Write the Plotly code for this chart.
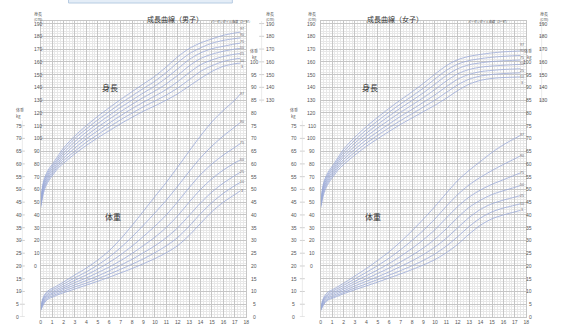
import plotly.graph_objects as go

# ages (years) at which the percentile values are given
ages = [0, 0.25, 0.5, 0.75, 1, 1.5, 2, 3, 4, 5, 6, 7, 8, 9, 10, 11, 12, 13, 14, 15, 16, 17, 17.5]
percentiles = ["3", "10", "25", "50", "75", "90", "97"]

# boys' height (cm), one row per percentile
boy_height = [
    [45.5, 57.5, 63.5, 67.5, 70.5, 76.5, 80.5, 88.0, 94.5, 100.5, 106.0, 111.5, 116.5, 121.3, 125.5, 130.0, 135.0, 141.0, 147.0, 152.5, 156.5, 158.5, 159.0],
    [46.9, 59.0, 65.0, 69.0, 72.0, 78.0, 82.5, 90.0, 97.0, 103.0, 109.0, 114.6, 119.8, 124.8, 129.3, 134.0, 139.5, 146.0, 152.5, 157.0, 160.3, 162.2, 162.8],
    [47.9, 60.5, 66.5, 70.5, 73.5, 79.5, 84.5, 92.5, 99.7, 106.0, 112.0, 117.8, 123.3, 128.4, 133.2, 138.3, 144.5, 151.5, 157.7, 161.5, 164.2, 166.0, 166.5],
    [49.0, 62.0, 68.0, 72.0, 75.0, 81.0, 86.5, 95.0, 102.3, 108.8, 115.0, 121.0, 126.7, 132.1, 137.1, 142.8, 149.5, 156.8, 162.6, 166.0, 168.3, 170.0, 170.6],
    [50.0, 63.5, 69.5, 73.5, 76.5, 82.7, 88.5, 97.5, 105.0, 111.7, 118.0, 124.3, 130.0, 135.7, 141.0, 147.4, 154.5, 161.8, 167.0, 170.3, 172.2, 174.0, 174.7],
    [51.0, 65.0, 71.0, 75.0, 78.0, 84.2, 90.5, 100.0, 107.5, 114.5, 121.0, 127.4, 133.3, 139.2, 144.8, 151.7, 159.5, 166.3, 171.0, 174.6, 176.8, 178.2, 178.8],
    [52.0, 66.5, 72.5, 76.5, 79.5, 86.0, 92.5, 102.0, 110.0, 117.3, 124.0, 130.5, 136.6, 142.7, 148.7, 156.0, 164.0, 170.4, 174.8, 178.0, 180.8, 182.6, 183.3],
]

# boys' weight (kg)
boy_weight = [
    [2.5, 5.0, 6.5, 7.3, 7.7, 8.7, 9.5, 11.0, 12.5, 14.0, 15.6, 17.3, 19.0, 20.9, 22.9, 25.2, 28.0, 32.0, 36.7, 41.3, 45.0, 48.0, 49.5],
    [2.75, 5.5, 7.0, 7.8, 8.2, 9.2, 10.1, 11.8, 13.3, 15.0, 16.8, 18.7, 20.7, 22.8, 25.2, 27.9, 31.2, 35.6, 40.5, 44.9, 48.5, 51.5, 52.8],
    [3.0, 6.0, 7.5, 8.3, 8.8, 9.8, 10.8, 12.6, 14.3, 16.1, 18.1, 20.3, 22.6, 25.2, 27.9, 31.1, 35.0, 39.8, 44.7, 49.0, 52.5, 55.4, 56.8],
    [3.2, 6.5, 8.0, 8.8, 9.3, 10.4, 11.4, 13.5, 15.3, 17.4, 19.6, 22.1, 24.9, 28.0, 31.3, 35.1, 39.7, 45.0, 50.0, 54.2, 57.6, 60.4, 61.6],
    [3.45, 7.0, 8.5, 9.4, 9.9, 11.0, 12.1, 14.4, 16.5, 18.8, 21.4, 24.4, 27.8, 31.6, 35.6, 40.0, 45.2, 50.7, 55.8, 60.0, 63.5, 66.5, 68.0],
    [3.7, 7.5, 9.1, 10.0, 10.6, 11.7, 12.9, 15.4, 17.7, 20.4, 23.5, 27.2, 31.4, 36.0, 40.8, 45.8, 51.3, 57.0, 62.4, 67.0, 71.0, 74.5, 76.3],
    [3.95, 8.0, 9.7, 10.6, 11.2, 12.4, 13.7, 16.5, 19.2, 22.3, 26.0, 30.6, 35.9, 41.5, 47.2, 52.8, 58.8, 65.0, 71.0, 76.5, 81.0, 85.0, 87.5],
]

# girls' height (cm)
girl_height = [
    [45.5, 56.0, 62.0, 66.0, 69.0, 75.0, 79.5, 87.0, 93.8, 99.8, 105.5, 111.0, 116.0, 121.0, 126.0, 131.5, 137.5, 142.5, 145.5, 147.0, 147.7, 148.0, 148.2],
    [46.6, 57.5, 63.5, 67.5, 70.5, 76.7, 81.5, 89.3, 96.3, 102.5, 108.4, 114.0, 119.3, 124.6, 130.0, 136.0, 142.0, 146.4, 148.9, 150.1, 150.8, 151.2, 151.4],
    [47.7, 59.0, 65.0, 69.0, 72.0, 78.3, 83.5, 91.6, 98.9, 105.3, 111.4, 117.3, 122.7, 128.3, 134.1, 140.5, 146.4, 150.2, 152.3, 153.3, 154.0, 154.4, 154.6],
    [48.5, 60.5, 66.5, 70.5, 73.5, 80.0, 85.5, 94.0, 101.5, 108.2, 114.5, 120.5, 126.2, 132.0, 138.3, 145.0, 150.6, 154.0, 155.8, 156.7, 157.3, 157.8, 158.0],
    [49.5, 62.0, 68.0, 72.0, 75.0, 81.6, 87.5, 96.4, 104.1, 111.0, 117.6, 123.8, 129.7, 135.8, 142.5, 149.3, 154.6, 157.7, 159.2, 160.2, 160.8, 161.2, 161.4],
    [50.4, 63.5, 69.5, 73.5, 76.5, 83.2, 89.5, 98.7, 106.7, 113.8, 120.6, 127.0, 133.1, 139.5, 146.5, 153.3, 158.2, 161.0, 162.5, 163.6, 164.3, 164.8, 165.0],
    [51.3, 65.0, 71.0, 75.0, 78.0, 84.8, 91.5, 101.0, 109.3, 116.6, 123.6, 130.2, 136.5, 143.2, 150.3, 157.0, 161.7, 164.3, 165.8, 167.0, 167.8, 168.3, 168.5],
]

# girls' weight (kg)
girl_weight = [
    [2.45, 4.8, 6.2, 6.9, 7.3, 8.2, 9.1, 10.7, 12.2, 13.7, 15.3, 16.9, 18.6, 20.4, 22.5, 25.2, 28.5, 32.5, 36.0, 38.5, 40.0, 41.2, 41.8],
    [2.7, 5.2, 6.6, 7.3, 7.7, 8.7, 9.6, 11.4, 13.0, 14.7, 16.4, 18.2, 20.1, 22.2, 24.7, 27.8, 31.5, 35.5, 38.8, 41.2, 42.7, 43.8, 44.4],
    [2.95, 5.6, 7.1, 7.8, 8.2, 9.3, 10.2, 12.2, 14.0, 15.8, 17.7, 19.8, 22.0, 24.5, 27.4, 30.9, 35.0, 39.0, 42.2, 44.4, 45.8, 47.0, 47.6],
    [3.15, 6.1, 7.6, 8.3, 8.8, 9.9, 10.9, 13.1, 15.0, 17.1, 19.2, 21.6, 24.2, 27.1, 30.5, 34.6, 39.0, 43.0, 45.8, 48.0, 49.5, 50.8, 51.6],
    [3.4, 6.6, 8.1, 8.9, 9.4, 10.5, 11.6, 14.0, 16.2, 18.5, 21.0, 23.8, 26.9, 30.3, 34.2, 38.8, 43.3, 47.0, 49.8, 52.0, 53.8, 55.6, 56.5],
    [3.6, 7.0, 8.6, 9.5, 10.0, 11.2, 12.4, 15.0, 17.5, 20.2, 23.1, 26.4, 30.0, 34.0, 38.4, 43.4, 48.0, 51.8, 54.8, 57.4, 59.8, 62.0, 63.2],
    [3.85, 7.5, 9.2, 10.1, 10.6, 11.9, 13.2, 16.1, 19.0, 22.2, 25.6, 29.5, 33.8, 38.4, 43.3, 48.5, 53.5, 57.5, 61.0, 64.5, 67.5, 70.0, 71.2],
]

titles = ["成長曲線（男子）", "成長曲線（女子）"]
age_ticks = list(range(0, 19))

W, H = 567, 325
FONT = "Noto Sans CJK JP"
NUM_FONT = "Liberation Sans"
CURVE = "#9aaad8"
TXT = "#555555"
GRID_MAJOR = "#c6c6c6"
GRID_MINOR = "#e8e8e8"

# height axis (cm) and weight axis (kg) share the same vertical space:
# weight w sits where height 2w - 40 sits
H_RANGE = [-40, 192]
W_RANGE = [0, 116]

# pixel placement of the two panels
panel_left = [40, 322]
panel_width = 207
plot_top, plot_bottom = 21, 317


def px(x):
    return x / W


def py(y):
    return 1 - y / H


def spread(values, gap):
    """Label positions in ascending order, at least `gap` apart, centred on the values."""
    pos = list(values)
    for k in range(1, len(pos)):
        pos[k] = max(pos[k], pos[k - 1] + gap)
    shift = (sum(values) - sum(pos)) / len(pos)
    return [v + shift for v in pos]


fig = go.Figure()

panels = [
    dict(height=boy_height, weight=boy_weight, xa="x", ya="y", wa="y3"),
    dict(height=girl_height, weight=girl_weight, xa="x2", ya="y2", wa="y4"),
]

for p in panels:
    for rows, yaxis, gap in ((p["height"], p["ya"], 5.0), (p["weight"], p["wa"], 2.5)):
        ends = [row[-1] for row in rows]
        label_y = spread(ends, gap)
        for row, lab, ly in zip(rows, percentiles, label_y):
            fig.add_trace(go.Scatter(
                x=ages, y=row, mode="lines", xaxis=p["xa"], yaxis=yaxis,
                line=dict(color=CURVE, width=0.8, shape="spline", smoothing=0.8),
                hoverinfo="skip", showlegend=False,
            ))
            fig.add_annotation(
                x=17.65, y=ly, xref=p["xa"], yref=yaxis, text=lab,
                showarrow=False, font=dict(family=NUM_FONT, size=3.5, color="#666666"),
                xanchor="center", yanchor="middle", borderpad=0,
            )

xaxis_common = dict(
    range=[0, 18], tickvals=age_ticks, ticktext=[str(a) for a in age_ticks],
    showgrid=True, gridcolor=GRID_MAJOR, gridwidth=0.8,
    minor=dict(dtick=0.25, showgrid=True, gridcolor=GRID_MINOR, gridwidth=0.6),
    zeroline=False, showline=True, linecolor=GRID_MAJOR, linewidth=0.8, mirror=True,
    ticks="", tickfont=dict(family=NUM_FONT, size=5, color=TXT), fixedrange=True,
)
yaxis_common = dict(
    range=H_RANGE, tick0=0, dtick=10, showticklabels=False,
    showgrid=True, gridcolor=GRID_MAJOR, gridwidth=0.8,
    minor=dict(dtick=2, showgrid=True, gridcolor=GRID_MINOR, gridwidth=0.6),
    zeroline=False, showline=True, linecolor=GRID_MAJOR, linewidth=0.8, mirror=True,
    ticks="", fixedrange=True,
)
yweight_common = dict(
    range=W_RANGE, showticklabels=False, showgrid=False, zeroline=False,
    ticks="", fixedrange=True,
)

dom_y = [py(plot_bottom), py(plot_top)]
fig.update_layout(
    width=W, height=H, margin=dict(l=0, r=0, t=0, b=0),
    paper_bgcolor="white", plot_bgcolor="white", showlegend=False,
    xaxis=dict(xaxis_common, domain=[px(panel_left[0]), px(panel_left[0] + panel_width)], anchor="y"),
    xaxis2=dict(xaxis_common, domain=[px(panel_left[1]), px(panel_left[1] + panel_width)], anchor="y2"),
    yaxis=dict(yaxis_common, domain=dom_y, anchor="x"),
    yaxis2=dict(yaxis_common, domain=dom_y, anchor="x2"),
    yaxis3=dict(yweight_common, domain=dom_y, anchor="x", overlaying="y"),
    yaxis4=dict(yweight_common, domain=dom_y, anchor="x2", overlaying="y2"),
)

small = dict(family=NUM_FONT, size=5, color=TXT)
tiny = dict(family=FONT, size=4, color=TXT)
shapes = []

for i, p in enumerate(panels):
    off = panel_left[i] - panel_left[0]
    ya, wa = p["ya"], p["wa"]

    # title and in-plot captions
    fig.add_annotation(x=px(145 + off), y=py(12), xref="paper", yref="paper", text=titles[i],
                       showarrow=False, font=dict(family=FONT, size=7, color="#333333"))
    fig.add_annotation(x=px(100 + off), y=139.5, xref="paper", yref=ya, text="身長",
                       showarrow=False, font=dict(family=FONT, size=8, color="#333333"))
    fig.add_annotation(x=px(103 + off), y=39.5, xref="paper", yref=wa, text="体重",
                       showarrow=False, font=dict(family=FONT, size=8, color="#333333"))
    fig.add_annotation(x=px(232 + off), y=py(17), xref="paper", yref="paper",
                       text="パーセンタイル曲線（3〜97）", showarrow=False,
                       font=dict(family=FONT, size=3, color=TXT))

    # left side: height column (0-190 cm), weight column (0-75 kg)
    for hv in range(0, 191, 10):
        fig.add_annotation(x=px(31 + off), y=hv, xref="paper", yref=ya, text=str(hv),
                           showarrow=False, font=small)
    fig.add_annotation(x=px(31 + off), y=py(9), xref="paper", yref="paper", text="身長",
                       showarrow=False, font=tiny)
    fig.add_annotation(x=px(31 + off), y=py(14), xref="paper", yref="paper", text="(cm)",
                       showarrow=False, font=tiny)
    fig.add_annotation(x=px(13 + off), y=81.2, xref="paper", yref=wa, text="体重",
                       showarrow=False, font=tiny)
    fig.add_annotation(x=px(13 + off), y=78.8, xref="paper", yref=wa, text="kg",
                       showarrow=False, font=tiny)
    for wv in range(0, 76, 5):
        fig.add_annotation(x=px(13 + off), y=wv, xref="paper", yref=wa, text=str(wv),
                           showarrow=False, font=small)
        shapes.append(dict(type="line", xref="paper", yref=wa, x0=px(19 + off), x1=px(24 + off),
                           y0=wv, y1=wv, line=dict(color="#bbbbbb", width=0.7)))
    shapes.append(dict(type="line", xref="paper", yref=wa, x0=px(21.5 + off), x1=px(21.5 + off),
                       y0=0, y1=77, line=dict(color="#dddddd", width=0.6)))

    # right side: weight column (0-100 kg), height column (130-190 cm)
    fig.add_annotation(x=px(255 + off), y=py(46), xref="paper", yref="paper", text="体重",
                       showarrow=False, font=tiny)
    fig.add_annotation(x=px(255 + off), y=py(52.5), xref="paper", yref="paper", text="kg",
                       showarrow=False, font=tiny)
    for wv in range(0, 101, 5):
        fig.add_annotation(x=px(255 + off), y=wv, xref="paper", yref=wa, text=str(wv),
                           showarrow=False, font=small)
    fig.add_annotation(x=px(271 + off), y=py(9), xref="paper", yref="paper", text="身長",
                       showarrow=False, font=tiny)
    fig.add_annotation(x=px(271 + off), y=py(14), xref="paper", yref="paper", text="(cm)",
                       showarrow=False, font=tiny)
    for hv in range(130, 191, 10):
        fig.add_annotation(x=px(271 + off), y=hv, xref="paper", yref=ya, text=str(hv),
                           showarrow=False, font=small)
        shapes.append(dict(type="line", xref="paper", yref=ya, x0=px(260 + off), x1=px(265 + off),
                           y0=hv, y1=hv, line=dict(color="#bbbbbb", width=0.7)))
    shapes.append(dict(type="line", xref="paper", yref=ya, x0=px(262.5 + off), x1=px(262.5 + off),
                       y0=128, y1=192, line=dict(color="#dddddd", width=0.6)))

# banner strip along the top edge
shapes.append(dict(type="rect", xref="paper", yref="paper", x0=px(68), x1=px(233),
                   y0=py(3), y1=1.02, fillcolor="#e4edf7", line=dict(color="#b7cce2", width=1)))

fig.update_layout(shapes=shapes)
fig.write_html("out.html")
